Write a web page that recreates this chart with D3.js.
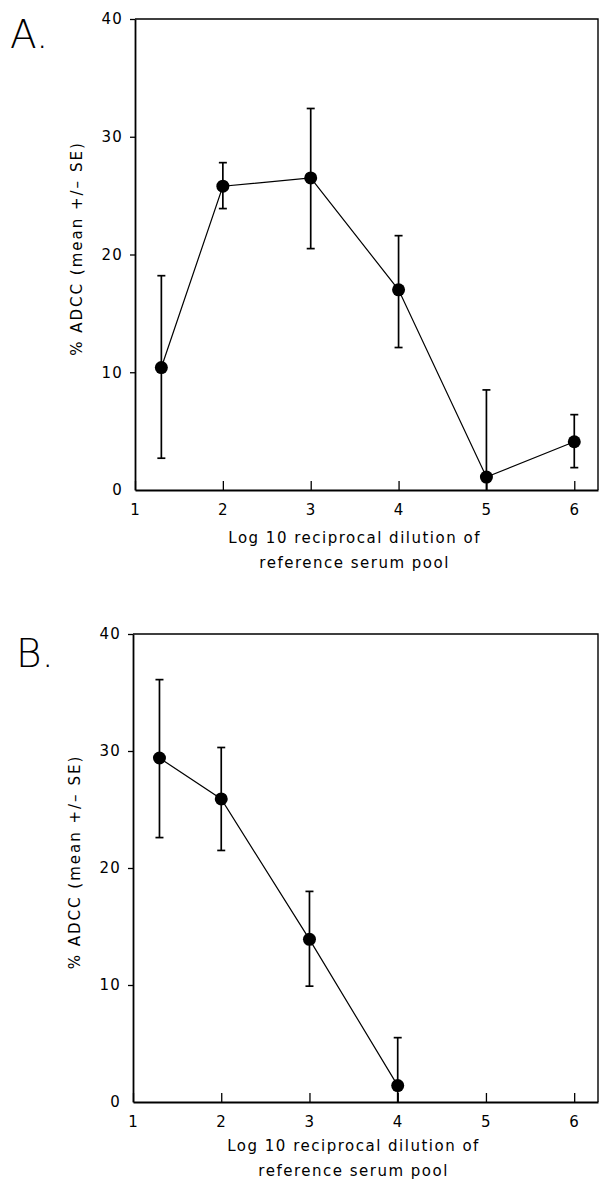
<!DOCTYPE html>
<html>
<head>
<meta charset="utf-8">
<script src="https://cdn.jsdelivr.net/npm/d3@7"></script>
<style>
  body { margin: 0; background: white; }
  svg { display: block; }
  text { font-family: "DejaVu Sans", sans-serif; fill: black; }
</style>
</head>
<body>
<div id="viz_canvas"></div>
<script>
"use strict";

// values (mean +/- SE, % ADCC)
var xTicks = [1, 2, 3, 4, 5, 6];
var yTicks = [0, 10, 20, 30, 40];
var xTitleLines = ["Log 10 reciprocal dilution of", "reference serum pool"];
var yTitle = "% ADCC (mean +/\u2013 SE)";

var dilutionA = [1.3, 2, 3, 4, 5, 6];
var meanA = [10.4, 25.8, 26.5, 17.0, 1.1, 4.1];
var upperA = [18.2, 27.8, 32.4, 21.6, 8.5, 6.4];
var lowerA = [2.7, 23.9, 20.5, 12.1, -6.3, 1.9];

var dilutionB = [1.3, 2, 3, 4];
var meanB = [29.4, 25.9, 13.9, 1.4];
var upperB = [36.1, 30.3, 18.0, 5.5];
var lowerB = [22.6, 21.5, 9.9, -2.7];

var width = 601, height = 1181;
var svg = d3.select("#viz_canvas").append("svg")
    .attr("width", width)
    .attr("height", height);

function toPoints(xs, means, ups, lows) {
    return xs.map((x, i) => ({ x: x, y: means[i], hi: ups[i], lo: lows[i] }));
}

function drawPanel(opts) {
    var points = toPoints(opts.xs, opts.means, opts.ups, opts.lows);
    var x = d3.scaleLinear().domain([1, 6.27]).range([opts.left, 598]);
    var y = d3.scaleLinear().domain([0, 40]).range([opts.bottom, opts.top]);
    var g = svg.append("g");

    // frame (top and right sides)
    g.append("path")
        .attr("d", "M" + x(1) + "," + y(40) + "H" + x(6.27) + "V" + y(0))
        .attr("fill", "none")
        .attr("stroke", "black")
        .attr("stroke-width", 1.4);

    var xAxis = g.append("g")
        .attr("transform", "translate(0," + y(0) + ")")
        .call(d3.axisBottom(x).tickValues(xTicks).tickSizeInner(-9).tickSizeOuter(0).tickPadding(14)
            .tickFormat(d3.format("d")));
    var yAxis = g.append("g")
        .attr("transform", "translate(" + x(1) + ",0)")
        .call(d3.axisLeft(y).tickValues(yTicks).tickSizeInner(5).tickSizeOuter(0).tickPadding(7));

    [xAxis, yAxis].forEach(function (a) {
        a.select(".domain").attr("stroke-width", 1.8);
        a.selectAll(".tick line").attr("stroke-width", 1.3);
        a.selectAll(".tick text")
            .attr("font-family", "DejaVu Sans, sans-serif")
            .attr("font-size", 15)
            .attr("letter-spacing", 1.2);
    });
    yAxis.selectAll(".tick")
        .filter(d => d === 0)
        .select("line").remove();

    // axis titles
    var xMid = (x(1) + x(6)) / 2;
    xTitleLines.forEach(function (line, i) {
        g.append("text")
            .attr("x", xMid)
            .attr("y", y(0) + opts.titleGap + i * 25)
            .attr("text-anchor", "middle")
            .attr("font-size", 15)
            .attr("letter-spacing", 1.5)
            .text(line);
    });
    g.append("text")
        .attr("transform", "translate(" + (opts.left - 53) + "," + ((y(0) + y(40)) / 2 - 6) + ") rotate(-90)")
        .attr("text-anchor", "middle")
        .attr("font-size", 15)
        .attr("letter-spacing", 2)
        .text(yTitle);

    // panel letter
    g.append("text")
        .attr("x", opts.letterX)
        .attr("y", opts.letterY)
        .attr("font-size", 39)
        .attr("font-weight", 100)
        .attr("font-family", "Lato, sans-serif")
        .text(opts.letter);

    // connecting line
    g.append("path")
        .datum(points)
        .attr("fill", "none")
        .attr("stroke", "black")
        .attr("stroke-width", 1.2)
        .attr("d", d3.line().x(d => x(d.x)).y(d => y(d.y)));

    // error bars, clamped at the x axis
    var bars = g.append("g").selectAll("g")
        .data(points)
        .enter().append("g")
        .attr("stroke", "black")
        .attr("stroke-width", 1.7);
    bars.append("line")
        .attr("x1", d => x(d.x)).attr("x2", d => x(d.x))
        .attr("y1", d => y(Math.max(0, d.lo)))
        .attr("y2", d => y(d.hi));
    bars.append("line")
        .attr("x1", d => x(d.x) - 4).attr("x2", d => x(d.x) + 4)
        .attr("y1", d => y(d.hi)).attr("y2", d => y(d.hi));
    bars.filter(d => d.lo >= 0).append("line")
        .attr("x1", d => x(d.x) - 4).attr("x2", d => x(d.x) + 4)
        .attr("y1", d => y(d.lo)).attr("y2", d => y(d.lo));

    g.append("g").selectAll("circle")
        .data(points)
        .enter().append("circle")
        .attr("cx", d => x(d.x))
        .attr("cy", d => y(d.y))
        .attr("r", 6.5)
        .attr("fill", "black");
}

drawPanel({ xs: dilutionA, means: meanA, ups: upperA, lows: lowerA,
    left: 135, top: 19, bottom: 490, titleGap: 53, letter: "A.", letterX: 10, letterY: 48 });
drawPanel({ xs: dilutionB, means: meanB, ups: upperB, lows: lowerB,
    left: 133, top: 634, bottom: 1102, titleGap: 49, letter: "B.", letterX: 16, letterY: 667 });
</script>
</body>
</html>
